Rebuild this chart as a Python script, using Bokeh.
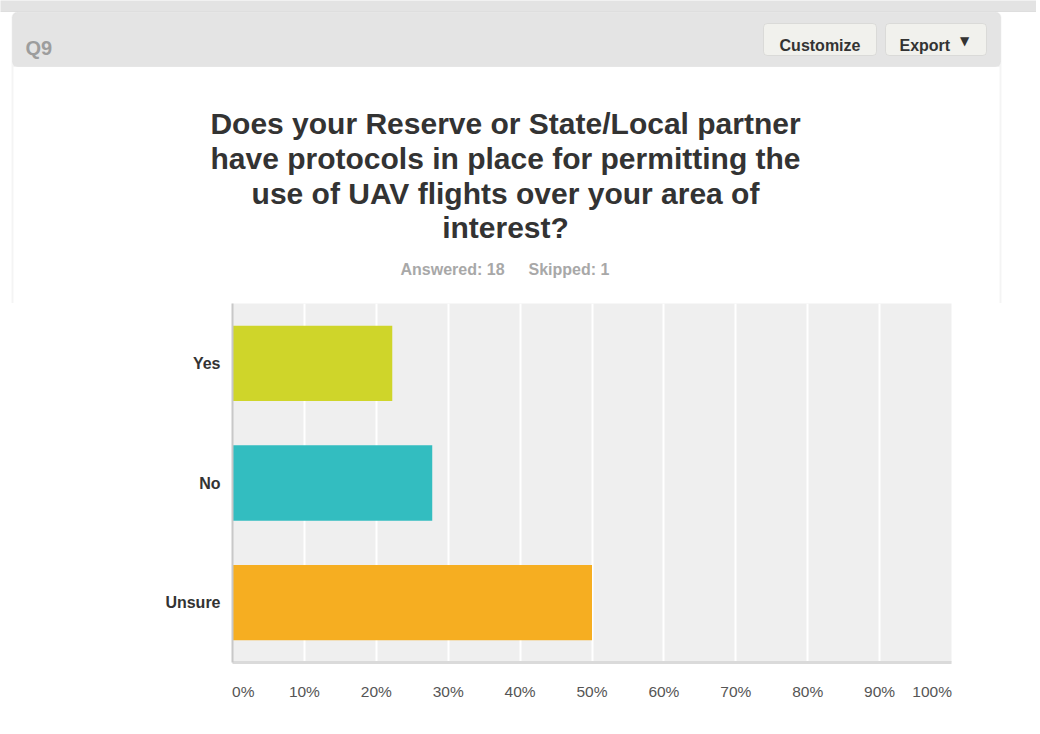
from bokeh.plotting import figure
from bokeh.layouts import column
from bokeh.models import (ColumnDataSource, FactorRange, Range1d, FixedTicker,
                          PrintfTickFormatter, Label, BoxAnnotation)
from bokeh.embed import file_html
from bokeh.resources import INLINE

# ---- data ----
categories = ["Yes", "No", "Unsure"]
percents = [22.22, 27.78, 50.00]
bar_colors = ["#cfd52a", "#33bdc0", "#f6ae21"]
x_ticks = [0, 10, 20, 30, 40, 50, 60, 70, 80, 90, 100]
title_lines = ["Does your Reserve or State/Local partner",
               "have protocols in place for permitting the",
               "use of UAV flights over your area of",
               "interest?"]
answered_text = "Answered: 18"
skipped_text = "Skipped: 1"
question_id = "Q9"

FONT = "Liberation Sans"

# layout in page pixels
FL, FR, FT, FB = 232, 951, 303, 662
W, H = 1036, 730
HEAD_H = FT

# ---------------- header figure (question header, title, counts) ----------------
hd = figure(width=W, height=HEAD_H, x_range=Range1d(0, W), y_range=Range1d(HEAD_H, 0),
            x_axis_type=None, y_axis_type=None, output_backend="svg",
            toolbar_location=None, min_border=0, outline_line_color=None,
            background_fill_color="white", border_fill_color="white")
hd.xgrid.visible = False
hd.ygrid.visible = False


def box(fig, x0, y0, x1, y1, **kw):
    b = BoxAnnotation(left=x0, right=x1, top=y0, bottom=y1, **kw)
    fig.add_layout(b)
    return b


def label(fig, X, Y, text, size, color, bold=False, align="left", baseline="alphabetic",
          font=FONT):
    lb = Label(x=X, y=Y, text=text,
               text_font=font, text_font_size=size, text_color=color,
               text_font_style="bold" if bold else "normal",
               text_align=align, text_baseline=baseline)
    fig.add_layout(lb)
    return lb


# page strip and card
box(hd, -20, -20, W + 20, 11, fill_color="#e3e3e3", fill_alpha=1,
    line_color="#b4b4b4", line_width=1)
box(hd, 12, 12, 1000, HEAD_H + 20, fill_alpha=0, line_color="#dcdcdc", line_width=2,
    border_radius=5)
box(hd, 12, 12, 1000, 66, fill_color="#e4e4e4", fill_alpha=1,
    line_color="#d8d8d8", line_width=1, border_radius=5)
box(hd, 13, 60, 999, 66, fill_color="#e4e4e4", fill_alpha=1, line_color=None)

# buttons
box(hd, 763, 23, 876, 55, fill_color="#f1f1ed", fill_alpha=1,
    line_color="#b3b3b3", line_width=1, border_radius=4)
box(hd, 885, 23, 986, 55, fill_color="#f1f1ed", fill_alpha=1,
    line_color="#b3b3b3", line_width=1, border_radius=4)
label(hd, 819.5, 45, "Customize", "16px", "#333333", bold=True, align="center")
label(hd, 899, 45, "Export", "16px", "#333333", bold=True)
label(hd, 964, 40, "\u25bc", "12px", "#333333", align="center", baseline="middle",
      font="DejaVu Sans")

label(hd, 25, 47, question_id, "20px", "#9d9d9d", bold=True)

for i, line in enumerate(title_lines):
    label(hd, 505, [123, 158, 193, 227][i], line, "30px", "#333333", bold=True, align="center")

label(hd, 400, 269, answered_text, "16px", "#a8a8a8", bold=True)
label(hd, 528, 269, skipped_text, "16px", "#a8a8a8", bold=True)

# ---------------- chart figure ----------------
src = ColumnDataSource(dict(cat=categories, val=percents, color=bar_colors))

p = figure(width=W, height=H - HEAD_H,
           x_range=Range1d(0, 100),
           y_range=FactorRange(factors=list(reversed(categories))),
           output_backend="svg", toolbar_location=None,
           min_border_left=FL, min_border_right=W - FR,
           min_border_top=0, min_border_bottom=H - FB,
           background_fill_color="#efefef", border_fill_color="white",
           outline_line_color=None)

p.hbar(y="cat", right="val", left=0, height=0.63, color="color",
       line_color=None, source=src)

ticker = FixedTicker(ticks=x_ticks)
p.xaxis.ticker = ticker
p.xaxis.formatter = PrintfTickFormatter(format="%d%%")
p.xaxis.major_label_overrides = {0: "\u00a0" * 5 + "0%", 100: "100%" + "\u00a0" * 9}
p.xgrid.ticker = ticker
p.xgrid.grid_line_color = "white"
p.xgrid.grid_line_width = 2
p.ygrid.visible = False

p.xaxis.axis_line_color = "#dadada"
p.xaxis.axis_line_width = 3
p.xaxis.major_tick_line_color = None
p.xaxis.minor_tick_line_color = None
p.xaxis.major_tick_out = 0
p.xaxis.major_label_standoff = 20
p.xaxis.major_label_text_font = FONT
p.xaxis.major_label_text_font_size = "15.5px"
p.xaxis.major_label_text_color = "#555555"

p.yaxis.axis_line_color = "#c8c8c8"
p.yaxis.axis_line_width = 2
p.yaxis.major_tick_line_color = None
p.yaxis.minor_tick_line_color = None
p.yaxis.major_tick_out = 0
p.yaxis.major_label_standoff = 12
p.yaxis.major_label_text_font = FONT
p.yaxis.major_label_text_font_size = "16px"
p.yaxis.major_label_text_font_style = "bold"
p.yaxis.major_label_text_color = "#333333"

# keep each figure's own frame (no cross-figure frame alignment)
for fig in (hd, p):
    if "frame_align" in fig.properties():
        fig.frame_align = False

layout = column(hd, p, spacing=0)

open("out.html", "w").write(file_html(layout, INLINE))
